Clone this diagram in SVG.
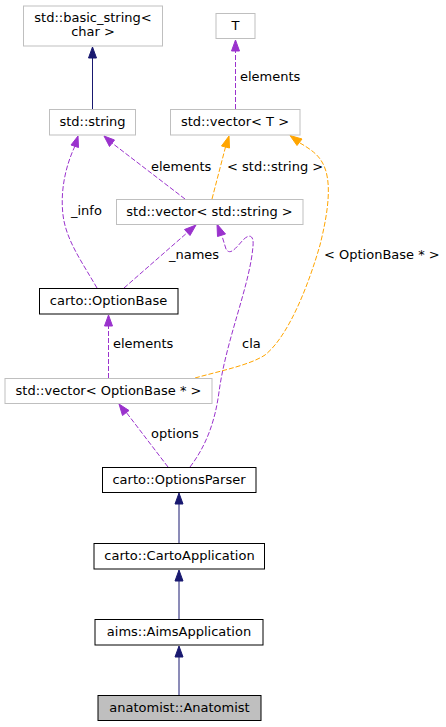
<svg xmlns="http://www.w3.org/2000/svg" width="446" height="727" viewBox="0 0 446 727">
<style>
  text { font-family: "DejaVu Sans", sans-serif; font-size: 13px; fill: #000; }
  .n text { text-anchor: middle; }
  .g rect { fill: #fff; stroke: #bfbfbf; stroke-width: 1; }
  .b rect { fill: #fff; stroke: #000; stroke-width: 1; }
  .cur rect { fill: #bfbfbf; stroke: #000; stroke-width: 1; }
  .inh { fill: none; stroke: #191970; stroke-width: 1; }
  .use { fill: none; stroke: #9a32cd; stroke-width: 1; stroke-dasharray: 5,2; }
  .tpl { fill: none; stroke: #ffa500; stroke-width: 1; stroke-dasharray: 5,2; }
  .hinh { fill: #191970; stroke: #191970; }
  .huse { fill: #9a32cd; stroke: #9a32cd; }
  .htpl { fill: #ffa500; stroke: #ffa500; }
</style>
<rect width="446" height="727" fill="#fff"/>
<g id="connectors">
  <!-- basic_string <- string -->
  <path class="inh" d="M92.5,109 L92.5,57"/>
  <polygon class="hinh" points="92.5,47 88.5,58 96.5,58"/>
  <!-- T <- vector<T> -->
  <path class="use" d="M235.5,109 L235.5,51"/>
  <polygon class="huse" points="235.5,40 231.5,51 239.5,51"/>
  <text x="240" y="81">elements</text>
  <!-- string <- vector<string> -->
  <path class="use" d="M185,199 L112,143"/>
  <polygon class="huse" points="104,136 109.5,146.5 114.5,140"/>
  <text x="151" y="171">elements</text>
  <!-- vector<T> <- vector<string> -->
  <path class="tpl" d="M212,199 L225.5,147"/>
  <polygon class="htpl" points="229,136 221.5,146 229.5,148"/>
  <text x="227" y="171">&lt; std::string &gt;</text>
  <!-- string <- OptionBase (_info) -->
  <path class="use" d="M97,288 C82,262 66,240 63,215 C60,190 66,165 75,146"/>
  <polygon class="huse" points="78,136 71,145 78.5,147.5"/>
  <text x="71" y="215">_info</text>
  <!-- vector<string> <- OptionBase (_names) -->
  <path class="use" d="M124,288 L188,232"/>
  <polygon class="huse" points="196,225 184.5,229.5 190,235.5"/>
  <text x="169" y="259">_names</text>
  <!-- vector<string> <- OptionsParser (cla) -->
  <path class="use" d="M190,467 C206,446 215,422 219,392 C226,340 250,285 253,246 C254,236 250,233 243,240 C236,248 230,256 226,249 L222,236"/>
  <polygon class="huse" points="217,224 217.5,236.5 225.5,234"/>
  <text x="242" y="348">cla</text>
  <!-- vector<T> <- vector<OptionBase*> -->
  <path class="tpl" d="M195,378 C220,371 250,365 265,355 C290,335 310,280 320,245 C328,213 333,180 322,162 C318,155 312,150 300,143"/>
  <polygon class="htpl" points="290,135.5 297,145.5 302,139"/>
  <text x="324" y="259">&lt; OptionBase * &gt;</text>
  <!-- OptionBase <- vector<OptionBase*> -->
  <path class="use" d="M108.5,378 L108.5,326"/>
  <polygon class="huse" points="108.5,315 104.5,326 112.5,326"/>
  <text x="113" y="348">elements</text>
  <!-- vector<OptionBase*> <- OptionsParser -->
  <path class="use" d="M168,467 L126,412"/>
  <polygon class="huse" points="119,404 122.5,415.5 129,410.5"/>
  <text x="151" y="438">options</text>
  <!-- OptionsParser <- CartoApplication -->
  <path class="inh" d="M179,543 L179,503"/>
  <polygon class="hinh" points="179,493 175,504 183,504"/>
  <!-- CartoApplication <- AimsApplication -->
  <path class="inh" d="M179,619 L179,580"/>
  <polygon class="hinh" points="179,570 175,581 183,581"/>
  <!-- AimsApplication <- Anatomist -->
  <path class="inh" d="M179,695 L179,656"/>
  <polygon class="hinh" points="179,646 175,657 183,657"/>
</g>
<g id="node_basic_string" class="n g">
  <rect x="23.5" y="6" width="139" height="40"/>
  <text x="93" y="21.5">std::basic_string&lt;</text>
  <text x="93" y="36">char &gt;</text>
</g>
<g id="node_T" class="n g">
  <rect x="216" y="13.5" width="39" height="25"/>
  <text x="235.5" y="29.5">T</text>
</g>
<g id="node_string" class="n g">
  <rect x="49.5" y="109.5" width="86" height="25.5"/>
  <text x="92.5" y="126">std::string</text>
</g>
<g id="node_vector_T" class="n g">
  <rect x="170.5" y="109.5" width="129.5" height="25.5"/>
  <text x="235" y="126">std::vector&lt; T &gt;</text>
</g>
<g id="node_vector_string" class="n g">
  <rect x="116.5" y="199.5" width="186.5" height="25"/>
  <text x="209.5" y="216">std::vector&lt; std::string &gt;</text>
</g>
<g id="node_OptionBase" class="n b">
  <rect x="39.5" y="288.5" width="138.5" height="25.5"/>
  <text x="108.5" y="305">carto::OptionBase</text>
</g>
<g id="node_vector_OptionBase" class="n g">
  <rect x="5" y="378.5" width="207" height="25"/>
  <text x="108.5" y="395">std::vector&lt; OptionBase * &gt;</text>
</g>
<g id="node_OptionsParser" class="n b">
  <rect x="102.5" y="467.5" width="153.5" height="25"/>
  <text x="179" y="484">carto::OptionsParser</text>
</g>
<g id="node_CartoApplication" class="n b">
  <rect x="94" y="543.5" width="170.5" height="25.5"/>
  <text x="179.5" y="560">carto::CartoApplication</text>
</g>
<g id="node_AimsApplication" class="n b">
  <rect x="95" y="619.5" width="168" height="25.5"/>
  <text x="179" y="636">aims::AimsApplication</text>
</g>
<g id="node_Anatomist" class="n cur">
  <rect x="98" y="695.5" width="163" height="25"/>
  <text x="179.5" y="712">anatomist::Anatomist</text>
</g>
</svg>
